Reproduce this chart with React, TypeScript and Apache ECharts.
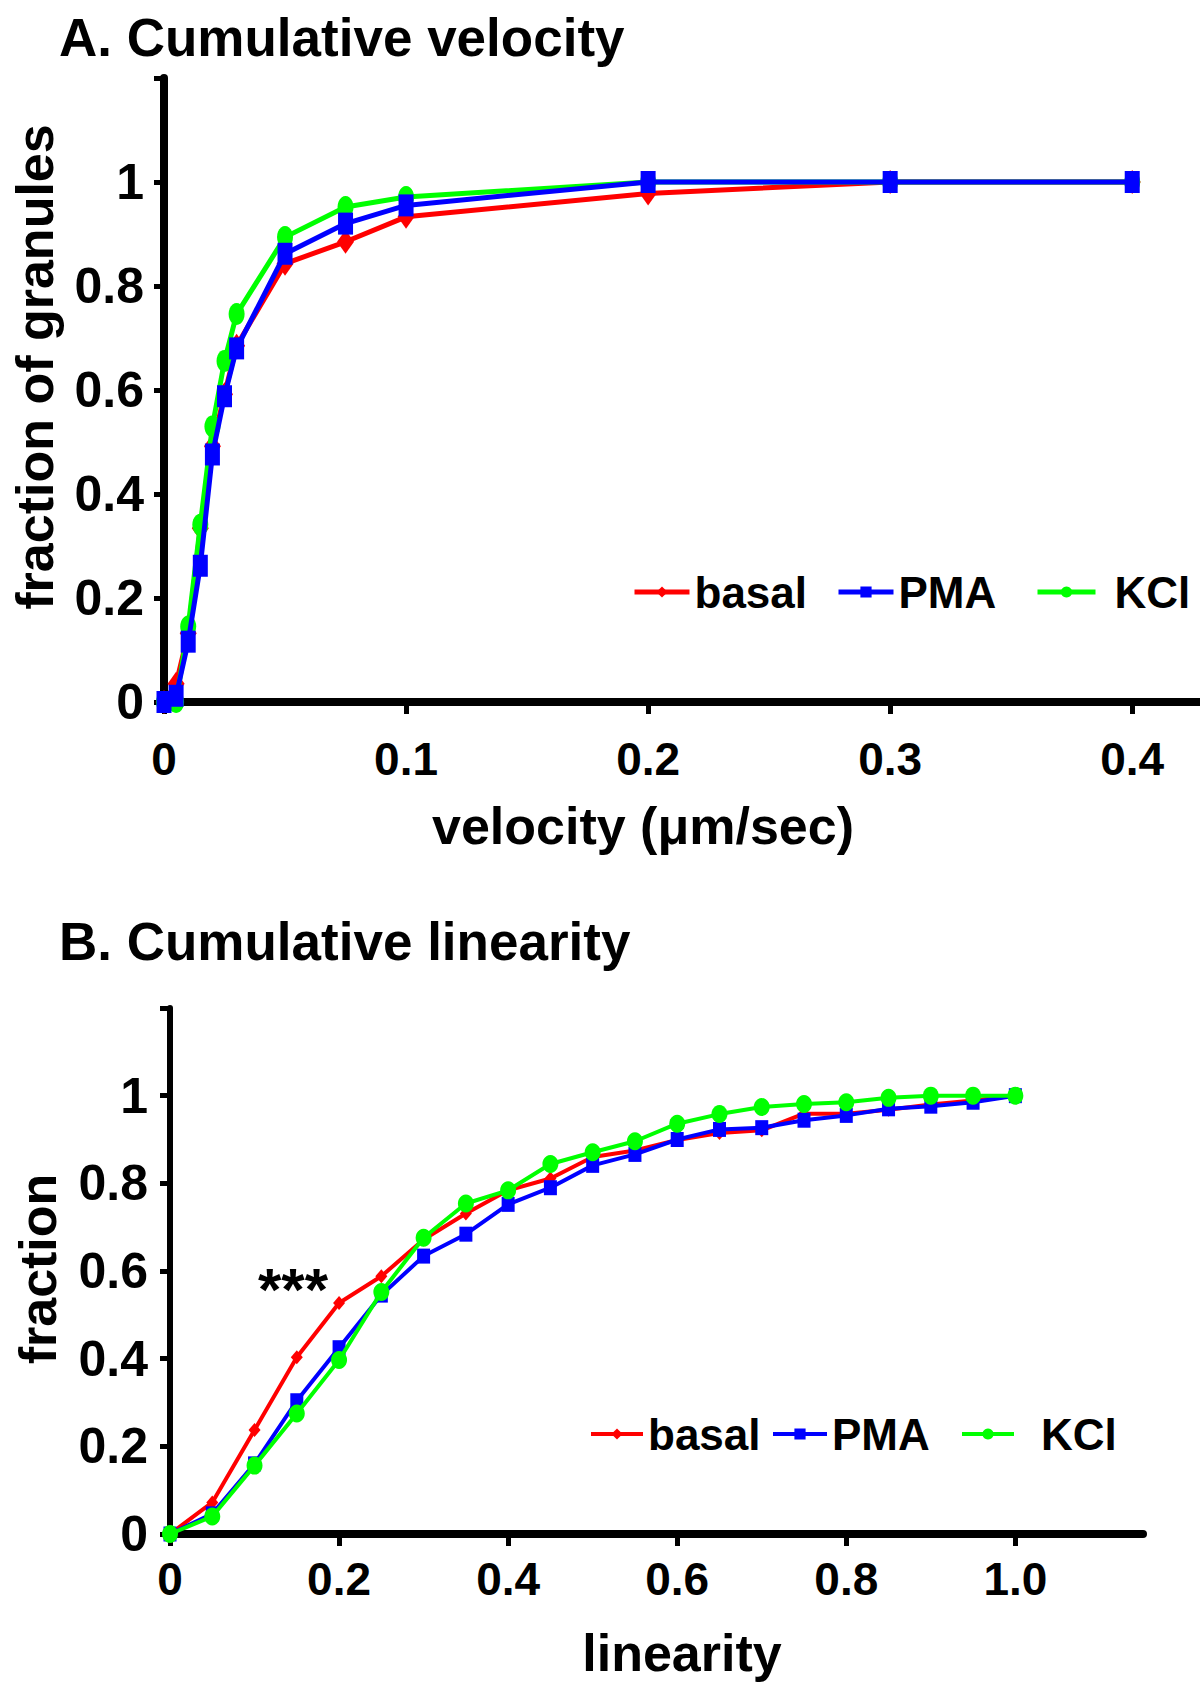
import React, { useEffect, useRef } from "react";
import * as echarts from "echarts";

// ---------- Panel A: cumulative velocity ----------
const velocityX = [0, 0.005, 0.01, 0.015, 0.02, 0.025, 0.03, 0.05, 0.075, 0.1, 0.2, 0.3, 0.4];
const velBasal = [0, 0.035, 0.132, 0.334, 0.492, 0.592, 0.685, 0.843, 0.885, 0.933, 0.978, 1.0, 1.0];
const velPMA = [0, 0.012, 0.116, 0.262, 0.476, 0.588, 0.68, 0.862, 0.92, 0.955, 1.0, 1.0, 1.0];
const velKCl = [0, 0.0, 0.145, 0.341, 0.53, 0.656, 0.746, 0.894, 0.952, 0.971, 1.0, 1.0, 1.0];
const velXTicks = [0, 0.1, 0.2, 0.3, 0.4];

// ---------- Panel B: cumulative linearity ----------
const linearityX = [0, 0.05, 0.1, 0.15, 0.2, 0.25, 0.3, 0.35, 0.4, 0.45, 0.5, 0.55, 0.6, 0.65, 0.7, 0.75, 0.8, 0.85, 0.9, 0.95, 1.0];
const linBasal = [0, 0.072, 0.237, 0.403, 0.527, 0.588, 0.672, 0.731, 0.784, 0.811, 0.86, 0.875, 0.899, 0.915, 0.921, 0.959, 0.959, 0.968, 0.98, 0.989, 1.0];
const linPMA = [0, 0.046, 0.16, 0.304, 0.425, 0.545, 0.634, 0.684, 0.752, 0.79, 0.841, 0.866, 0.9, 0.923, 0.927, 0.944, 0.955, 0.97, 0.976, 0.985, 1.0];
const linKCl = [0, 0.04, 0.156, 0.275, 0.397, 0.552, 0.676, 0.754, 0.784, 0.844, 0.871, 0.896, 0.936, 0.958, 0.974, 0.981, 0.985, 0.995, 1.0, 1.0, 1.0];
const linXTicks = [0, 0.2, 0.4, 0.6, 0.8, 1.0];
const linXLabels = ["0", "0.2", "0.4", "0.6", "0.8", "1.0"];

const yTicks = [0, 0.2, 0.4, 0.6, 0.8, 1.0, 1.2];
const yLabelValues = [0, 0.2, 0.4, 0.6, 0.8, 1.0];

const seriesNames = ["basal", "PMA", "KCl"];
const RED = "#ff0000";
const BLUE = "#0000ff";
const GREEN = "#00ff00";
const FONT = '"Liberation Sans", Arial, Helvetica, sans-serif';

const zip = (xs: number[], ys: number[]) => xs.map((x, i) => [x, ys[i]]);

export default function App() {
  const ref = useRef<HTMLDivElement>(null);

  useEffect(() => {
    if (!ref.current) return;
    const chart = echarts.init(ref.current, null, { renderer: "svg" });

    const axisLabelStyle = (size: number, margin: number) => ({
      fontSize: size,
      fontWeight: "bold" as const,
      fontFamily: FONT,
      color: "#000",
      margin,
    });

    const yAxisCommon = (gridIndex: number, lineW: number, margin: number) => ({
      type: "value" as const,
      gridIndex,
      min: 0,
      max: 1.2,
      interval: 0.2,
      splitLine: { show: false },
      axisLine: { show: true, onZero: false, lineStyle: { color: "#000", width: lineW } },
      axisTick: { show: true, inside: false, length: 10, customValues: yTicks, lineStyle: { color: "#000", width: 5 } },
      axisLabel: {
        ...axisLabelStyle(50, margin),
        customValues: yLabelValues,
        formatter: (v: number) => String(Math.round(v * 10) / 10),
      },
    });

    const mkLegend = (name: string, left: number, centerY: number, gapExtra: number, itemWidth: number, lw: number) => ({
      data: [name],
      left,
      top: centerY - 26,
      itemWidth,
      itemHeight: 14,
      itemGap: 0,
      selectedMode: false,
      lineStyle: { width: lw },
      textStyle: {
        fontSize: 44,
        fontWeight: "bold" as const,
        fontFamily: FONT,
        color: "#000",
        padding: [0, 0, 0, gapExtra],
      },
    });

    const option: any = {
      animation: false,
      backgroundColor: "#fff",
      grid: [
        { left: 164, top: 78, right: 0, bottom: 991, containLabel: false },
        { left: 170, top: 1008, right: 57, bottom: 159, containLabel: false },
      ],
      xAxis: [
        {
          type: "value",
          gridIndex: 0,
          min: 0,
          max: 0.428,
          splitLine: { show: false },
          axisLine: { show: true, onZero: false, lineStyle: { color: "#000", width: 8 } },
          axisTick: { show: true, length: 12, customValues: velXTicks, lineStyle: { color: "#000", width: 5 } },
          axisLabel: {
            ...axisLabelStyle(46, 34),
            customValues: velXTicks,
            formatter: (v: number) => String(v),
          },
        },
        {
          type: "value",
          gridIndex: 1,
          min: 0,
          max: 1.151,
          splitLine: { show: false },
          axisLine: { show: true, onZero: false, lineStyle: { color: "#000", width: 8 } },
          axisTick: { show: true, length: 12, customValues: linXTicks, lineStyle: { color: "#000", width: 5 } },
          axisLabel: {
            ...axisLabelStyle(46, 22),
            customValues: linXTicks,
            formatter: (v: number) => linXLabels[linXTicks.findIndex((t) => Math.abs(t - v) < 1e-6)] ?? "",
          },
        },
      ],
      yAxis: [yAxisCommon(0, 8, 20), yAxisCommon(1, 6, 22)],
      legend: [
        mkLegend("basal", 627, 591, 0, 55, 5),
        mkLegend("PMA", 831, 591, 0, 55, 5),
        mkLegend("KCl", 1030, 591, 14, 58, 5),
        mkLegend("basal", 584, 1433, 0, 52, 4),
        mkLegend("PMA", 766, 1433, 0, 54, 4),
        mkLegend("KCl", 955, 1433, 22, 52, 4),
      ],
      series: [
        {
          name: seriesNames[0],
          type: "line",
          xAxisIndex: 0,
          yAxisIndex: 0,
          data: zip(velocityX, velBasal),
          symbol: "diamond",
          symbolSize: [17, 24],
          showAllSymbol: true,
          clip: false,
          z: 2,
          lineStyle: { color: RED, width: 5 },
          itemStyle: { color: RED },
        },
        {
          name: seriesNames[2],
          type: "line",
          xAxisIndex: 0,
          yAxisIndex: 0,
          data: zip(velocityX, velKCl),
          symbol: "circle",
          symbolSize: [16, 22],
          showAllSymbol: true,
          clip: false,
          z: 3,
          lineStyle: { color: GREEN, width: 5 },
          itemStyle: { color: GREEN },
        },
        {
          name: seriesNames[1],
          type: "line",
          xAxisIndex: 0,
          yAxisIndex: 0,
          data: zip(velocityX, velPMA),
          symbol: "rect",
          symbolSize: [15, 22],
          showAllSymbol: true,
          clip: false,
          z: 4,
          lineStyle: { color: BLUE, width: 5 },
          itemStyle: { color: BLUE },
        },
        {
          name: seriesNames[0],
          type: "line",
          xAxisIndex: 1,
          yAxisIndex: 1,
          data: zip(linearityX, linBasal),
          symbol: "diamond",
          symbolSize: [12, 14],
          showAllSymbol: true,
          clip: false,
          z: 2,
          lineStyle: { color: RED, width: 4 },
          itemStyle: { color: RED },
        },
        {
          name: seriesNames[1],
          type: "line",
          xAxisIndex: 1,
          yAxisIndex: 1,
          data: zip(linearityX, linPMA),
          symbol: "rect",
          symbolSize: [13, 15],
          showAllSymbol: true,
          clip: false,
          z: 3,
          lineStyle: { color: BLUE, width: 4 },
          itemStyle: { color: BLUE },
        },
        {
          name: seriesNames[2],
          type: "line",
          xAxisIndex: 1,
          yAxisIndex: 1,
          data: zip(linearityX, linKCl),
          symbol: "circle",
          symbolSize: [16, 18],
          showAllSymbol: true,
          clip: false,
          z: 4,
          lineStyle: { color: GREEN, width: 4 },
          itemStyle: { color: GREEN },
        },
      ],
      graphic: [
        {
          type: "text",
          style: { x: 59, y: 37, text: "A. Cumulative velocity", fontSize: 53, fontWeight: "bold", fontFamily: FONT, fill: "#000", align: "left", verticalAlign: "middle" },
        },
        {
          type: "text",
          style: { x: 59, y: 941, text: "B. Cumulative linearity", fontSize: 53, fontWeight: "bold", fontFamily: FONT, fill: "#000", align: "left", verticalAlign: "middle" },
        },
        {
          type: "text",
          x: 35,
          y: 367,
          rotation: Math.PI / 2,
          style: { x: 0, y: 0, text: "fraction of granules", fontSize: 52, fontWeight: "bold", fontFamily: FONT, fill: "#000", align: "center", verticalAlign: "middle" },
        },
        {
          type: "text",
          x: 38,
          y: 1269,
          rotation: Math.PI / 2,
          style: { x: 0, y: 0, text: "fraction", fontSize: 52, fontWeight: "bold", fontFamily: FONT, fill: "#000", align: "center", verticalAlign: "middle" },
        },
        {
          type: "text",
          style: { x: 643, y: 826, text: "velocity (\u03bcm/sec)", fontSize: 52, fontWeight: "bold", fontFamily: FONT, fill: "#000", align: "center", verticalAlign: "middle" },
        },
        {
          type: "text",
          style: { x: 682, y: 1653, text: "linearity", fontSize: 52, fontWeight: "bold", fontFamily: FONT, fill: "#000", align: "center", verticalAlign: "middle" },
        },
        {
          type: "text",
          style: { x: 293, y: 1289, text: "***", fontSize: 60, fontWeight: "bold", fontFamily: FONT, fill: "#000", align: "center", verticalAlign: "middle" },
        },
      ],
    };

    chart.setOption(option);
    return () => chart.dispose();
  }, []);

  return (
    <div
      ref={ref}
      style={{ position: "absolute", left: 0, top: 0, width: 1200, height: 1693, background: "#fff" }}
    />
  );
}
